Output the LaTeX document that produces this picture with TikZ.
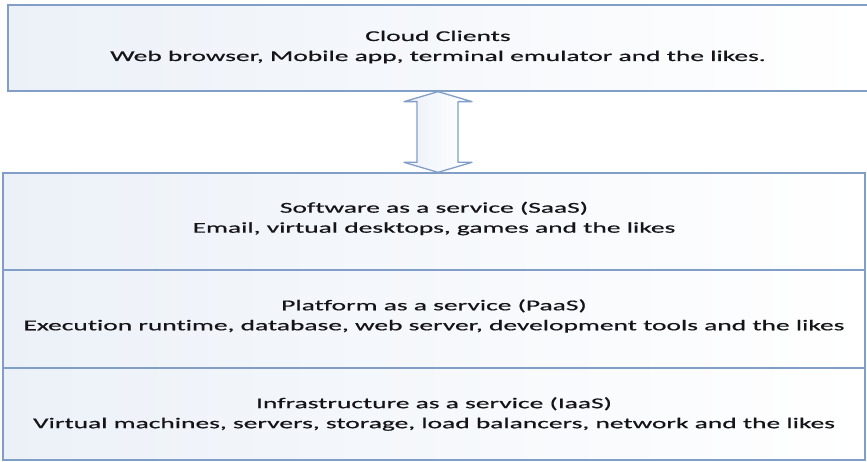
\documentclass[tikz,border=0pt]{standalone}
\usepackage{fontspec}
\usepackage{tikz}
\usetikzlibrary{calc}
\newfontfamily\layerfont{Carlito}[FakeStretch=1.83, FakeBold=0.6, Ligatures=NoCommon]
\definecolor{layerline}{RGB}{128,158,200}
\definecolor{layershade}{RGB}{236,241,248}
\definecolor{layertext}{RGB}{20,20,25}
\tikzset{
	layer/.style={draw=layerline, line width=1.3pt, left color=layershade, right color=white, minimum width=862pt, inner sep=0pt},
	caption/.style={align=center, text=layertext, font=\layerfont\fontsize{15}{20}\selectfont, inner sep=0pt}
}
\newcommand{\makelayer}[6]{
	\node[layer, minimum height=#3] (#1) at (434,#2) {};
	\node[caption] (#1text) at ($(#1.center)+(0,#4)$) {#5\\#6};
}

\begin{document}
\begin{tikzpicture}[x=1pt,y=-1pt]
	\useasboundingbox (0,0) rectangle (867,462);

	\node[layer, minimum width=860pt, minimum height=86pt] (clients) at (438,48) {};
	\node[caption] (clientstext) at ($(clients.center)+(0,-1)$) {Cloud Clients\\Web browser, Mobile app, terminal emulator and the likes.};

	\makelayer{saas}{221.5}{97pt}{-3}{Software as a service (SaaS)}{Email, virtual desktops, games and the likes}
	\makelayer{paas}{319}{98pt}{-3}{Platform as a service (PaaS)}{Execution runtime, database, web server, development tools and the likes}
	\makelayer{iaas}{414}{92pt}{0}{Infrastructure as a service (IaaS)}{Virtual machines, servers, storage, load balancers, network and the likes}

	\draw[layerline, line width=1.3pt, line join=round, left color=layershade, right color=white]
		(clients.south) -- ++(34,10) -- ++(-14,0) -- ($(saas.north -| clients.south)+(20,-10)$) -- ++(14,0)
		-- (saas.north -| clients.south) -- ++(-34,-10) -- ++(13,0) -- ($(clients.south)+(-21,10)$) -- ++(-13,0) -- cycle;

\end{tikzpicture}
\end{document}
